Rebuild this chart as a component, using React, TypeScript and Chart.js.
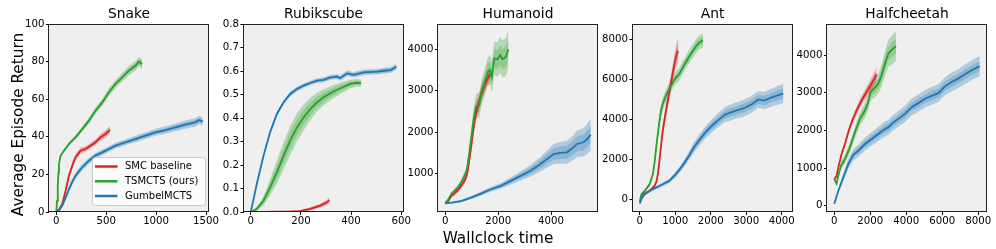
import React, { useEffect, useRef } from 'react';
import Chart from 'chart.js/auto';

const W = 996;
const H = 249;
const PLOT_BOTTOM = 212;
const PLOT_W = 160;
const Y_AXIS_W = 45;
const FONT = "'DejaVu Sans', sans-serif";

const RED = [214, 39, 40];
const GREEN = [44, 160, 44];
const BLUE = [31, 119, 180];

// ---------------- Snake ----------------
const SNAKE_SMC_X = [0, 30, 60, 93, 127, 160, 193, 243, 293, 343, 393, 443, 493, 537];
const SNAKE_SMC_Y = [0, 1.5, 4.3, 11.3, 19.3, 24.6, 29.1, 32.6, 33.5, 35.3, 37.1, 39.7, 41.5, 43.6];
const SNAKE_SMC_IN = [0.2, 0.3, 0.5, 0.8, 1, 1.1, 1, 0.9, 0.8, 0.8, 0.9, 1, 1.1, 1.2];
const SNAKE_SMC_OUT = [0.4, 0.6, 1, 1.5, 1.9, 2, 1.9, 1.7, 1.5, 1.5, 1.6, 1.8, 2, 2.2];

const SNAKE_TS_X = [0, 8, 15, 22, 27, 43, 77, 127, 193, 260, 327, 393, 460, 527, 593, 660, 727, 793, 827, 860];
const SNAKE_TS_Y = [0, 6, 14, 21, 25.5, 30, 32.6, 36.2, 39.7, 44.1, 48.6, 53.9, 58.3, 63.7, 68.1, 71.6, 75.2, 77.8, 80, 78.7];
const SNAKE_TS_IN = [0.1, 0.3, 0.4, 0.5, 0.5, 0.5, 0.5, 0.5, 0.6, 0.7, 0.8, 0.9, 1, 1.1, 1.2, 1.2, 1.3, 1.3, 1.4, 1.4];
const SNAKE_TS_OUT = [0.2, 0.6, 0.8, 0.9, 0.9, 0.9, 0.9, 1, 1.2, 1.4, 1.6, 1.8, 2, 2.1, 2.2, 2.3, 2.4, 2.5, 2.6, 2.6];

const SNAKE_GUM_X = [0, 30, 60, 93, 127, 160, 193, 260, 327, 393, 460, 527, 593, 693, 793, 893, 993, 1093, 1193, 1293, 1393, 1433, 1467];
const SNAKE_GUM_Y = [0, 1, 3.4, 7.5, 12.2, 16, 19.3, 23.8, 27.3, 30, 31.7, 33.5, 35.3, 37.1, 38.8, 40.6, 42.4, 43.6, 45, 46.5, 47.7, 48.9, 48.2];
const SNAKE_GUM_IN = [0.2, 0.3, 0.5, 0.7, 0.9, 1, 1, 0.9, 0.9, 0.8, 0.8, 0.8, 0.8, 0.9, 0.9, 1, 1, 1, 1.1, 1.1, 1.2, 1.2, 1.2];
const SNAKE_GUM_OUT = [0.4, 0.6, 0.9, 1.3, 1.6, 1.7, 1.8, 1.7, 1.6, 1.5, 1.5, 1.5, 1.5, 1.6, 1.7, 1.8, 1.9, 2, 2.1, 2.2, 2.3, 2.3, 2.3];

const SNAKE_X_TICKS = [0, 500, 1000, 1500];
const SNAKE_X_LABELS = ['0', '500', '1000', '1500'];
const SNAKE_Y_TICKS = [0, 20, 40, 60, 80, 100];
const SNAKE_Y_LABELS = ['0', '20', '40', '60', '80', '100'];

// ---------------- Rubikscube ----------------
const RUBIK_SMC_X = [0, 50, 100, 150, 197, 237, 277, 304, 313];
const RUBIK_SMC_Y = [0, 0, 0.001, 0.002, 0.004, 0.013, 0.027, 0.041, 0.051];
const RUBIK_SMC_IN = [0, 0, 0.0005, 0.001, 0.002, 0.004, 0.005, 0.006, 0.007];
const RUBIK_SMC_OUT = [0, 0.001, 0.001, 0.002, 0.004, 0.007, 0.009, 0.011, 0.012];

const RUBIK_TS_X = [0, 24, 51, 77, 104, 131, 157, 184, 211, 237, 264, 291, 317, 344, 371, 397, 424, 440];
const RUBIK_TS_Y = [0, 0.013, 0.048, 0.105, 0.169, 0.24, 0.304, 0.36, 0.403, 0.438, 0.467, 0.488, 0.505, 0.52, 0.533, 0.545, 0.55, 0.548];
const RUBIK_TS_IN = [0, 0.005, 0.011, 0.02, 0.028, 0.033, 0.035, 0.034, 0.031, 0.027, 0.023, 0.019, 0.017, 0.015, 0.012, 0.01, 0.009, 0.008];
const RUBIK_TS_OUT = [0, 0.01, 0.02, 0.035, 0.05, 0.058, 0.062, 0.06, 0.055, 0.048, 0.04, 0.034, 0.03, 0.026, 0.022, 0.018, 0.016, 0.015];

const RUBIK_GUM_X = [0, 24, 51, 77, 104, 131, 157, 184, 211, 237, 264, 291, 317, 344, 357, 384, 411, 451, 504, 531, 557, 581];
const RUBIK_GUM_Y = [0, 0.119, 0.24, 0.339, 0.417, 0.467, 0.502, 0.523, 0.538, 0.549, 0.559, 0.562, 0.573, 0.576, 0.57, 0.59, 0.584, 0.594, 0.597, 0.601, 0.604, 0.618];
const RUBIK_GUM_IN = [0, 0.003, 0.004, 0.005, 0.005, 0.005, 0.005, 0.005, 0.005, 0.005, 0.005, 0.005, 0.006, 0.006, 0.006, 0.006, 0.006, 0.006, 0.007, 0.007, 0.007, 0.007];
const RUBIK_GUM_OUT = [0, 0.006, 0.008, 0.01, 0.01, 0.01, 0.01, 0.01, 0.01, 0.01, 0.011, 0.011, 0.011, 0.011, 0.011, 0.012, 0.012, 0.012, 0.012, 0.013, 0.013, 0.013];

const RUBIK_X_TICKS = [0, 200, 400, 600];
const RUBIK_X_LABELS = ['0', '200', '400', '600'];
const RUBIK_Y_TICKS = [0, 0.1, 0.2, 0.3, 0.4, 0.5, 0.6, 0.7, 0.8];
const RUBIK_Y_LABELS = ['0.0', '0.1', '0.2', '0.3', '0.4', '0.5', '0.6', '0.7', '0.8'];

// ---------------- Humanoid ----------------
const HUM_SMC_X = [0, 100, 225, 350, 475, 600, 725, 800, 850, 900, 975, 1040, 1100, 1160, 1225, 1290, 1350, 1410, 1475, 1540, 1600, 1650, 1700];
const HUM_SMC_Y = [270, 320, 457, 520, 595, 700, 822, 930, 1065, 1300, 1632, 1950, 2240, 2450, 2605, 2760, 2890, 3000, 3108, 3200, 3295, 3350, 3400];
const HUM_SMC_IN = [15, 20, 25, 30, 35, 40, 45, 50, 60, 70, 80, 90, 100, 100, 100, 100, 100, 100, 100, 100, 100, 100, 100];
const HUM_SMC_OUT = [30, 40, 50, 55, 60, 70, 80, 90, 110, 130, 150, 170, 180, 190, 190, 190, 190, 190, 180, 180, 180, 180, 180];

const HUM_TS_X = [0, 100, 225, 350, 475, 600, 725, 800, 850, 900, 950, 1012, 1080, 1162, 1225, 1287, 1375, 1475, 1600, 1687, 1762, 1850, 1975, 2075, 2162, 2287, 2387];
const HUM_TS_Y = [290, 360, 497, 580, 660, 780, 943, 1050, 1227, 1450, 1700, 2000, 2350, 2620, 2640, 2660, 2970, 3170, 3457, 3500, 3335, 3780, 3757, 3862, 3760, 3810, 4000];
const HUM_TS_IN = [15, 20, 25, 30, 35, 40, 50, 60, 70, 90, 110, 130, 150, 160, 170, 170, 170, 180, 190, 200, 210, 220, 230, 240, 250, 250, 260];
const HUM_TS_OUT = [30, 40, 50, 55, 60, 70, 90, 110, 140, 170, 200, 240, 270, 290, 300, 300, 310, 320, 340, 360, 380, 400, 420, 440, 450, 460, 470];

const HUM_GUM_X = [0, 100, 300, 600, 975, 1350, 1725, 2100, 2475, 2850, 3225, 3600, 3850, 4100, 4350, 4600, 4850, 4975, 5225, 5350, 5500];
const HUM_GUM_Y = [300, 286, 300, 335, 416, 513, 619, 700, 822, 943, 1065, 1227, 1349, 1470, 1500, 1511, 1632, 1713, 1754, 1820, 1940];
const HUM_GUM_IN = [5, 8, 10, 15, 20, 25, 30, 40, 50, 60, 80, 100, 120, 140, 150, 160, 170, 180, 190, 195, 200];
const HUM_GUM_OUT = [10, 15, 20, 30, 40, 50, 60, 70, 90, 110, 140, 180, 210, 240, 260, 280, 300, 320, 340, 360, 380];

const HUM_X_TICKS = [0, 2000, 4000];
const HUM_X_LABELS = ['0', '2000', '4000'];
const HUM_Y_TICKS = [1000, 2000, 3000, 4000];
const HUM_Y_LABELS = ['1000', '2000', '3000', '4000'];

// ---------------- Ant ----------------
const ANT_SMC_X = [0, 139, 278, 417, 470, 509, 540, 574, 610, 648, 741, 833, 926, 1019, 1065, 1090];
const ANT_SMC_Y = [-67, 268, 435, 686, 900, 1272, 1700, 2276, 2850, 3448, 4453, 5373, 6294, 7131, 7382, 7330];
const ANT_SMC_IN = [20, 30, 40, 50, 60, 80, 100, 120, 140, 160, 180, 200, 230, 280, 300, 320];
const ANT_SMC_OUT = [40, 60, 80, 100, 120, 160, 200, 240, 280, 320, 360, 400, 460, 550, 600, 620];

const ANT_TS_X = [0, 46, 139, 278, 370, 420, 463, 510, 556, 600, 648, 741, 833, 926, 1019, 1111, 1200, 1250, 1389, 1574, 1680, 1780];
const ANT_TS_Y = [-100, 268, 435, 770, 1272, 1900, 2611, 3300, 3950, 4450, 4788, 5206, 5541, 5842, 6093, 6260, 6550, 6712, 7131, 7633, 7850, 7950];
const ANT_TS_IN = [20, 40, 50, 60, 80, 100, 120, 140, 150, 160, 160, 160, 160, 160, 160, 160, 170, 170, 170, 180, 180, 180];
const ANT_TS_OUT = [40, 80, 100, 120, 160, 200, 240, 280, 300, 320, 320, 320, 320, 320, 320, 320, 330, 330, 340, 350, 360, 360];

const ANT_GUM_X = [0, 93, 278, 463, 648, 833, 1019, 1204, 1389, 1528, 1667, 1852, 2037, 2222, 2407, 2593, 2778, 2963, 3148, 3333, 3519, 3704, 3889, 4046];
const ANT_GUM_Y = [-200, 268, 435, 603, 770, 937, 1272, 1691, 2193, 2611, 2946, 3365, 3700, 3984, 4252, 4369, 4486, 4587, 4754, 4989, 4955, 5089, 5206, 5290];
const ANT_GUM_IN = [10, 20, 30, 40, 50, 60, 80, 100, 120, 140, 150, 170, 180, 190, 200, 210, 210, 220, 220, 220, 230, 240, 250, 260];
const ANT_GUM_OUT = [20, 40, 60, 80, 100, 120, 150, 180, 220, 250, 280, 300, 330, 350, 380, 400, 400, 420, 420, 420, 430, 450, 470, 480];

const ANT_X_TICKS = [0, 1000, 2000, 3000, 4000];
const ANT_X_LABELS = ['0', '1000', '2000', '3000', '4000'];
const ANT_Y_TICKS = [0, 2000, 4000, 6000, 8000];
const ANT_Y_LABELS = ['0', '2000', '4000', '6000', '8000'];

// ---------------- Halfcheetah ----------------
const HC_SMC_X = [0, 130, 222, 407, 593, 778, 963, 1241, 1519, 1796, 2074, 2352];
const HC_SMC_Y = [704, 793, 1016, 1372, 1639, 1951, 2218, 2530, 2797, 3020, 3243, 3492];
const HC_SMC_IN = [20, 25, 30, 35, 40, 45, 50, 55, 65, 75, 85, 95];
const HC_SMC_OUT = [40, 50, 60, 70, 80, 90, 100, 110, 130, 150, 170, 190];

const HC_TS_X = [0, 130, 222, 370, 593, 870, 1148, 1426, 1704, 1889, 2000, 2074, 2259, 2444, 2630, 2815, 3000, 3185, 3426];
const HC_TS_Y = [704, 588, 793, 1060, 1238, 1550, 1951, 2307, 2530, 2750, 3000, 3050, 3136, 3243, 3466, 3777, 4044, 4134, 4241];
const HC_TS_IN = [20, 30, 40, 50, 60, 70, 80, 90, 100, 110, 115, 120, 125, 135, 150, 165, 180, 190, 200];
const HC_TS_OUT = [40, 60, 80, 100, 120, 140, 160, 180, 200, 220, 230, 240, 250, 270, 300, 330, 360, 380, 400];

const HC_GUM_X = [0, 222, 500, 778, 1056, 1333, 1704, 2074, 2444, 2815, 3000, 3185, 3556, 3926, 4296, 4667, 5037, 5407, 5778, 6148, 6519, 6889, 7259, 7630, 8000, 8080];
const HC_GUM_Y = [53, 392, 748, 1105, 1354, 1461, 1639, 1773, 1907, 2040, 2080, 2174, 2307, 2441, 2619, 2726, 2842, 2920, 2990, 3172, 3287, 3377, 3492, 3599, 3688, 3700];
const HC_GUM_IN = [10, 30, 50, 65, 75, 80, 85, 90, 95, 100, 100, 100, 105, 110, 110, 115, 115, 120, 120, 120, 125, 125, 130, 130, 135, 135];
const HC_GUM_OUT = [20, 60, 100, 130, 150, 160, 170, 180, 190, 200, 200, 200, 210, 220, 220, 230, 230, 240, 240, 240, 250, 250, 260, 260, 270, 270];

const HC_X_TICKS = [0, 2000, 4000, 6000, 8000];
const HC_X_LABELS = ['0', '2000', '4000', '6000', '8000'];
const HC_Y_TICKS = [0, 1000, 2000, 3000, 4000];
const HC_Y_LABELS = ['0', '1000', '2000', '3000', '4000'];

const LEGEND_LABELS = ['SMC baseline', 'TSMCTS (ours)', 'GumbelMCTS'];
const TITLES = ['Snake', 'Rubikscube', 'Humanoid', 'Ant', 'Halfcheetah'];
const Y_LABEL = 'Average Episode Return';
const X_LABEL = 'Wallclock time';

type Series = { x: number[]; y: number[]; inner: number[]; outer: number[]; rgb: number[]; order: number };
type Panel = {
  title: string; left: number;
  xMin: number; xMax: number; yMin: number; yMax: number;
  xTicks: number[]; xLabels: string[]; yTicks: number[]; yLabels: string[];
  series: Series[];
};

const mk = (x: number[], y: number[], inner: number[], outer: number[], rgb: number[], order: number): Series =>
  ({ x, y, inner, outer, rgb, order });

const PANELS: Panel[] = [
  {
    title: TITLES[0], left: 49, xMin: -73, xMax: 1530, yMin: 0, yMax: 100,
    xTicks: SNAKE_X_TICKS, xLabels: SNAKE_X_LABELS, yTicks: SNAKE_Y_TICKS, yLabels: SNAKE_Y_LABELS,
    series: [
      mk(SNAKE_SMC_X, SNAKE_SMC_Y, SNAKE_SMC_IN, SNAKE_SMC_OUT, RED, 3),
      mk(SNAKE_TS_X, SNAKE_TS_Y, SNAKE_TS_IN, SNAKE_TS_OUT, GREEN, 2),
      mk(SNAKE_GUM_X, SNAKE_GUM_Y, SNAKE_GUM_IN, SNAKE_GUM_OUT, BLUE, 1),
    ],
  },
  {
    title: TITLES[1], left: 243.5, xMin: -29, xMax: 609, yMin: 0, yMax: 0.8,
    xTicks: RUBIK_X_TICKS, xLabels: RUBIK_X_LABELS, yTicks: RUBIK_Y_TICKS, yLabels: RUBIK_Y_LABELS,
    series: [
      mk(RUBIK_SMC_X, RUBIK_SMC_Y, RUBIK_SMC_IN, RUBIK_SMC_OUT, RED, 3),
      mk(RUBIK_TS_X, RUBIK_TS_Y, RUBIK_TS_IN, RUBIK_TS_OUT, GREEN, 2),
      mk(RUBIK_GUM_X, RUBIK_GUM_Y, RUBIK_GUM_IN, RUBIK_GUM_OUT, BLUE, 1),
    ],
  },
  {
    title: TITLES[2], left: 438, xMin: -275, xMax: 5775, yMin: 70, yMax: 4610,
    xTicks: HUM_X_TICKS, xLabels: HUM_X_LABELS, yTicks: HUM_Y_TICKS, yLabels: HUM_Y_LABELS,
    series: [
      mk(HUM_SMC_X, HUM_SMC_Y, HUM_SMC_IN, HUM_SMC_OUT, RED, 3),
      mk(HUM_TS_X, HUM_TS_Y, HUM_TS_IN, HUM_TS_OUT, GREEN, 2),
      mk(HUM_GUM_X, HUM_GUM_Y, HUM_GUM_IN, HUM_GUM_OUT, BLUE, 1),
    ],
  },
  {
    title: TITLES[3], left: 632.5, xMin: -205, xMax: 4305, yMin: -617, yMax: 8768,
    xTicks: ANT_X_TICKS, xLabels: ANT_X_LABELS, yTicks: ANT_Y_TICKS, yLabels: ANT_Y_LABELS,
    series: [
      mk(ANT_SMC_X, ANT_SMC_Y, ANT_SMC_IN, ANT_SMC_OUT, RED, 3),
      mk(ANT_TS_X, ANT_TS_Y, ANT_TS_IN, ANT_TS_OUT, GREEN, 2),
      mk(ANT_GUM_X, ANT_GUM_Y, ANT_GUM_IN, ANT_GUM_OUT, BLUE, 1),
    ],
  },
  {
    title: TITLES[4], left: 827, xMin: -404, xMax: 8484, yMin: -168, yMax: 4829,
    xTicks: HC_X_TICKS, xLabels: HC_X_LABELS, yTicks: HC_Y_TICKS, yLabels: HC_Y_LABELS,
    series: [
      mk(HC_SMC_X, HC_SMC_Y, HC_SMC_IN, HC_SMC_OUT, RED, 3),
      mk(HC_TS_X, HC_TS_Y, HC_TS_IN, HC_TS_OUT, GREEN, 2),
      mk(HC_GUM_X, HC_GUM_Y, HC_GUM_IN, HC_GUM_OUT, BLUE, 1),
    ],
  },
];

const rgba = (c: number[], a: number) => `rgba(${c[0]},${c[1]},${c[2]},${a})`;

function buildDatasets(p: Panel) {
  const ds: any[] = [];
  p.series.forEach((s) => {
    const bands: [number[], number][] = [[s.outer, 0.3], [s.inner, 0.25]];
    bands.forEach(([hw, a]) => {
      ds.push({
        data: s.x.map((x, i) => ({ x, y: s.y[i] + hw[i] })),
        borderColor: 'transparent', borderWidth: 0, pointRadius: 0, fill: false, order: 20,
      });
      ds.push({
        data: s.x.map((x, i) => ({ x, y: s.y[i] - hw[i] })),
        borderColor: 'transparent', borderWidth: 0, pointRadius: 0, fill: '-1',
        backgroundColor: rgba(s.rgb, a), order: 20,
      });
    });
  });
  p.series.forEach((s) => {
    ds.push({
      data: s.x.map((x, i) => ({ x, y: s.y[i] })),
      borderColor: rgba(s.rgb, 1), borderWidth: 1.8, pointRadius: 0, fill: false,
      tension: 0, order: s.order,
    });
  });
  return ds;
}

const framePlugin = {
  id: 'frame',
  beforeDraw(chart: any) {
    const { ctx, chartArea: a } = chart;
    ctx.save();
    ctx.fillStyle = '#efefef';
    ctx.fillRect(a.left, a.top, a.right - a.left, a.bottom - a.top);
    ctx.restore();
  },
  afterDatasetsDraw(chart: any) {
    const { ctx, chartArea: a } = chart;
    ctx.save();
    ctx.strokeStyle = '#222';
    ctx.lineWidth = 1;
    const l = Math.round(a.left) - 0.5, t = Math.round(a.top) + 0.5;
    const r = Math.round(a.right) - 0.5, b = Math.round(a.bottom) - 0.5;
    ctx.strokeRect(l, t, r - l, b - t);
    ctx.restore();
  },
};

const overlayPlugin = {
  id: 'overlay',
  afterDraw(chart: any) {
    const ctx = chart.ctx;
    ctx.save();
    // figure-level axis labels
    ctx.fillStyle = '#000';
    ctx.font = `15.3px ${FONT}`;
    ctx.textAlign = 'center';
    ctx.textBaseline = 'alphabetic';
    ctx.fillText(X_LABEL, W / 2, 243);
    ctx.save();
    ctx.translate(22.5, H / 2);
    ctx.rotate(-Math.PI / 2);
    ctx.fillText(Y_LABEL, 0, 0);
    ctx.restore();
    // legend in Snake panel
    const bx = 92.5, by = 157.5, bw = 113, bh = 48;
    ctx.beginPath();
    ctx.roundRect(bx, by, bw, bh, 3);
    ctx.fillStyle = 'rgba(255,255,255,0.8)';
    ctx.fill();
    ctx.strokeStyle = '#cccccc';
    ctx.lineWidth = 1;
    ctx.stroke();
    const cols = [RED, GREEN, BLUE];
    const rows = [166.5, 181.3, 196];
    ctx.font = `10px ${FONT}`;
    ctx.textAlign = 'left';
    ctx.textBaseline = 'middle';
    LEGEND_LABELS.forEach((lab, i) => {
      ctx.strokeStyle = rgba(cols[i], 1);
      ctx.lineWidth = 2.5;
      ctx.beginPath();
      ctx.moveTo(95, rows[i]);
      ctx.lineTo(117.5, rows[i]);
      ctx.stroke();
      ctx.fillStyle = '#000';
      ctx.fillText(lab, 125, rows[i]);
    });
    ctx.restore();
  },
};

function buildConfig(p: Panel, idx: number): any {
  return {
    type: 'line',
    data: { datasets: buildDatasets(p) },
    plugins: idx === 0 ? [framePlugin, overlayPlugin] : [framePlugin],
    options: {
      responsive: false,
      animation: false,
      devicePixelRatio: 1,
      events: [],
      layout: { padding: { left: p.left - Y_AXIS_W, right: W - (p.left + PLOT_W), top: 0, bottom: 0 } },
      plugins: {
        legend: { display: false },
        tooltip: { enabled: false },
        title: {
          display: true, text: p.title, color: '#000', fullSize: false,
          font: { family: FONT, size: 13.8, weight: 'normal', lineHeight: 1.2 },
          padding: { top: 6.2, bottom: 1.24 },
        },
        filler: { propagate: false },
      },
      scales: {
        x: {
          type: 'linear', min: p.xMin, max: p.xMax,
          grid: { drawOnChartArea: false, drawTicks: true, tickLength: 3, color: '#000', lineWidth: 1 },
          border: { display: false },
          ticks: {
            color: '#000', font: { family: FONT, size: 10.2 }, padding: 0.5, maxRotation: 0, autoSkip: false,
            callback: (_v: any, i: number) => p.xLabels[i],
          },
          afterBuildTicks: (s: any) => { s.ticks = p.xTicks.map((v) => ({ value: v })); },
          afterFit: (s: any) => { s.height = H - PLOT_BOTTOM; s.paddingLeft = 0; s.paddingRight = 0; },
        },
        y: {
          type: 'linear', min: p.yMin, max: p.yMax,
          grid: { drawOnChartArea: false, drawTicks: true, tickLength: 3, color: '#000', lineWidth: 1 },
          border: { display: false },
          ticks: {
            color: '#000', font: { family: FONT, size: 10.2 }, padding: 1.5, autoSkip: false,
            callback: (_v: any, i: number) => p.yLabels[i],
          },
          afterBuildTicks: (s: any) => { s.ticks = p.yTicks.map((v) => ({ value: v })); },
          afterFit: (s: any) => { s.width = Y_AXIS_W; s.paddingTop = 0; s.paddingBottom = 0; },
        },
      },
    },
  };
}

export default function App() {
  const refs = useRef<(HTMLCanvasElement | null)[]>([]);
  useEffect(() => {
    const charts = PANELS.map((p, i) => new Chart(refs.current[i] as HTMLCanvasElement, buildConfig(p, i)));
    return () => { charts.forEach((c) => c.destroy()); };
  }, []);
  return (
    <div style={{ position: 'fixed', left: 0, top: 0, width: W, height: H, background: '#fff' }}>
      {PANELS.map((p, i) => (
        <canvas
          key={p.title}
          ref={(el) => { refs.current[i] = el; }}
          width={W}
          height={H}
          style={{ position: 'absolute', left: 0, top: 0, width: W, height: H }}
        />
      ))}
    </div>
  );
}
